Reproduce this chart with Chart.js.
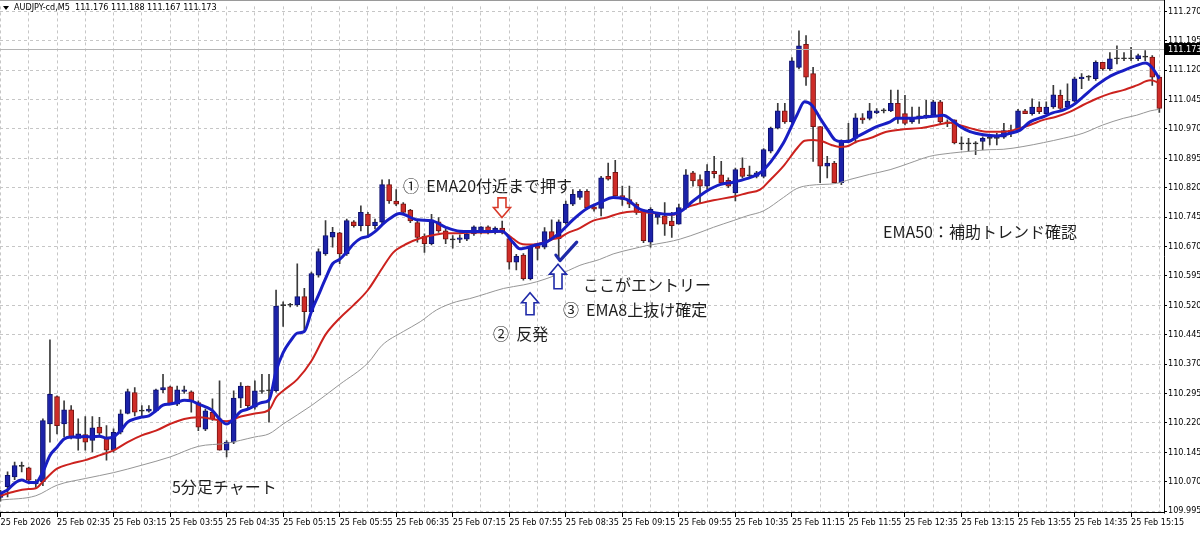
<!DOCTYPE html>
<html><head><meta charset="utf-8">
<script src="https://cdn.jsdelivr.net/npm/chart.js@4.4.1/dist/chart.umd.min.js"></script>
<style>html,body{margin:0;padding:0;background:#fff;overflow:hidden}canvas{display:block}</style>
</head><body>
<canvas id="c" width="1200" height="535"></canvas>
<script>
// ---- data ----
const symbolTitle = 'AUDJPY-cd,M5  111.176 111.188 111.167 111.173';
const lastPrice = 111.173;

const opens = [
110.030,110.057,110.082,110.109,110.105,110.064,110.070,110.217,110.287,110.217,
110.253,110.180,110.190,110.175,110.209,110.184,110.150,110.196,110.244,110.297,
110.251,110.250,110.251,110.304,110.312,110.268,110.300,110.299,110.272,110.204,
110.247,110.230,110.150,110.171,110.283,110.314,110.260,110.300,110.302,110.302,
110.519,110.520,110.521,110.542,110.504,110.597,110.651,110.694,110.705,110.651,
110.733,110.723,110.753,110.723,110.732,110.828,110.786,110.779,110.763,110.731,
110.696,110.677,110.733,110.710,110.688,110.688,110.689,110.702,110.706,110.720,
110.706,110.717,110.690,110.630,110.648,110.588,110.672,110.668,110.708,110.690,
110.731,110.778,110.795,110.811,110.771,110.767,110.849,110.859,110.800,110.790,
110.778,110.761,110.681,110.744,110.748,110.735,110.727,110.769,110.858,110.841,
110.824,110.862,110.853,110.839,110.807,110.870,110.851,110.849,110.849,110.913,
110.972,111.016,110.988,111.127,111.186,111.111,110.976,110.875,110.883,110.833,
110.938,110.946,110.998,110.997,111.011,111.016,111.016,111.035,111.009,110.988,
111.001,111.001,111.005,111.039,110.988,110.993,110.932,110.932,110.932,110.938,
110.946,110.946,110.949,110.967,110.967,111.016,111.009,111.026,111.009,111.026,
111.056,111.026,111.041,111.098,111.102,111.098,111.140,111.123,111.149,111.149,
111.149,111.149,111.153,111.153,111.102];
const highs = [
110.048,110.095,110.120,110.120,110.107,110.075,110.230,110.432,110.289,110.276,
110.264,110.230,110.236,110.236,110.234,110.213,110.205,110.253,110.306,110.310,
110.264,110.264,110.306,110.344,110.314,110.314,110.314,110.302,110.276,110.255,
110.281,110.327,110.175,110.302,110.323,110.314,110.327,110.344,110.344,110.559,
110.529,110.525,110.626,110.563,110.605,110.664,110.736,110.719,110.706,110.740,
110.736,110.774,110.757,110.740,110.840,110.841,110.815,110.782,110.765,110.735,
110.702,110.752,110.744,110.714,110.698,110.700,110.706,110.723,110.721,110.723,
110.720,110.735,110.692,110.650,110.652,110.672,110.678,110.718,110.738,110.738,
110.786,110.815,110.815,110.815,110.778,110.849,110.883,110.890,110.824,110.824,
110.782,110.765,110.769,110.752,110.782,110.757,110.778,110.866,110.862,110.853,
110.879,110.900,110.887,110.845,110.870,110.896,110.875,110.862,110.920,110.975,
111.035,111.035,111.152,111.220,111.208,111.127,110.976,110.900,110.887,110.942,
110.984,111.009,111.009,111.035,111.022,111.022,111.069,111.069,111.056,111.026,
111.026,111.043,111.043,111.043,110.993,110.993,110.950,110.946,110.938,110.950,
110.950,110.959,110.984,110.980,111.020,111.020,111.047,111.039,111.039,111.081,
111.069,111.085,111.102,111.111,111.106,111.144,111.140,111.165,111.182,111.165,
111.178,111.161,111.170,111.157,111.106];
const lows = [
110.020,110.031,110.075,110.095,110.064,110.055,110.060,110.171,110.192,110.184,
110.179,110.150,110.150,110.146,110.184,110.125,110.145,110.192,110.243,110.238,
110.238,110.247,110.250,110.297,110.268,110.264,110.295,110.247,110.200,110.200,
110.226,110.150,110.133,110.167,110.259,110.259,110.255,110.295,110.222,110.298,
110.466,110.516,110.517,110.453,110.500,110.592,110.647,110.668,110.626,110.647,
110.719,110.710,110.694,110.715,110.727,110.780,110.774,110.752,110.731,110.681,
110.655,110.674,110.706,110.677,110.666,110.680,110.685,110.698,110.702,110.702,
110.702,110.702,110.612,110.610,110.584,110.585,110.636,110.664,110.688,110.640,
110.727,110.774,110.790,110.765,110.760,110.748,110.839,110.799,110.775,110.769,
110.752,110.680,110.668,110.727,110.698,110.693,110.727,110.765,110.824,110.782,
110.816,110.845,110.828,110.820,110.786,110.845,110.845,110.845,110.845,110.909,
110.970,110.984,110.984,111.123,111.081,110.887,110.833,110.845,110.833,110.828,
110.934,110.934,110.984,110.993,111.009,111.011,111.014,110.984,110.980,110.984,
110.984,110.997,111.001,110.984,110.976,110.932,110.917,110.913,110.904,110.917,
110.929,110.929,110.946,110.950,110.963,111.009,111.005,111.009,111.008,111.022,
111.020,111.022,111.039,111.073,111.094,111.094,111.119,111.119,111.136,111.144,
111.144,111.144,111.144,111.081,111.012];
const closes = [
110.042,110.086,110.111,110.110,110.074,110.070,110.226,110.293,110.213,110.253,
110.184,110.192,110.171,110.207,110.194,110.150,110.196,110.243,110.300,110.247,
110.250,110.255,110.304,110.310,110.268,110.304,110.304,110.276,110.209,110.251,
110.230,110.150,110.171,110.283,110.314,110.264,110.302,110.300,110.303,110.518,
110.520,110.521,110.542,110.504,110.601,110.657,110.698,110.706,110.651,110.736,
110.723,110.757,110.723,110.732,110.828,110.786,110.778,110.757,110.735,110.693,
110.677,110.738,110.710,110.689,110.687,110.692,110.702,110.720,110.720,110.706,
110.717,110.706,110.630,110.645,110.588,110.668,110.665,110.708,110.690,110.733,
110.778,110.803,110.811,110.769,110.765,110.845,110.842,110.799,110.790,110.778,
110.757,110.685,110.765,110.752,110.727,110.723,110.769,110.853,110.837,110.824,
110.862,110.856,110.832,110.824,110.866,110.849,110.850,110.858,110.917,110.972,
111.016,110.988,111.144,111.182,111.102,110.976,110.875,110.883,110.833,110.938,
110.942,110.998,110.993,111.016,111.016,111.016,111.035,110.997,110.984,110.997,
111.001,111.005,111.039,110.988,110.984,110.934,110.932,110.932,110.932,110.946,
110.946,110.946,110.966,110.959,111.016,111.009,111.026,111.014,111.026,111.057,
111.022,111.041,111.098,111.102,111.102,111.140,111.123,111.149,111.149,111.149,
111.149,111.157,111.153,111.102,111.022];

// EMA lines at these bar positions
const ema8Bars = [0,1,2,3,4,5,6,7,8,9,10,11,12,13,14,15,16,17,18,19,20,21,22,23,24,25,26,27,28,29,30,31,32,33,34,35,36,37,38,39,40,41,42,43,44,45,46,47,48,49,50,51,52,53,54,55,56.5,59,61,63,65,68,71,72.5,73.5,75.4,77.3,79.2,81,83,84.8,86.7,88.6,90.5,92.4,94.3,96.2,98,99.9,101.8,103.7,105.6,107.5,109,110.8,112.7,113.8,114.8,116,117.1,118.1,119,120,121.2,122.6,124,125.9,126.8,128.7,130.6,132.5,133.4,134.6,135.8,137.2,139.1,141,142.9,144.3,145.7,147.6,148.9,150.4,151.8,153.2,155.1,156.8,158.9,160.8,162,162.9,164];
const ema8Vals = [110.040,110.049,110.066,110.074,110.068,110.068,110.095,110.137,110.158,110.179,110.184,110.184,110.185,110.184,110.186,110.181,110.184,110.200,110.222,110.230,110.235,110.238,110.251,110.265,110.268,110.272,110.278,110.276,110.268,110.261,110.251,110.230,110.217,110.230,110.249,110.255,110.264,110.272,110.278,110.352,110.399,110.428,110.449,110.453,110.504,110.546,110.588,110.626,110.637,110.656,110.677,110.691,110.696,110.708,110.725,110.740,110.754,110.738,110.736,110.719,110.709,110.708,110.709,110.681,110.664,110.672,110.682,110.706,110.738,110.767,110.782,110.795,110.790,110.765,110.757,110.752,110.759,110.786,110.811,110.828,110.834,110.843,110.858,110.886,110.934,111.005,111.039,111.031,110.997,110.967,110.942,110.938,110.938,110.950,110.963,110.976,110.988,110.997,110.997,111.000,111.003,111.005,110.993,110.976,110.963,110.955,110.952,110.959,110.967,110.988,111.001,111.011,111.018,111.031,111.052,111.081,111.102,111.119,111.132,111.138,111.128,111.098];

const ema20Bars = [0,2,4,5,6,8,10,12,14,16,18,20,22,24,26,28,30,32,34,36,38,39,40,42,44,46,48,50,52,54,55.6,57.5,59.4,61.3,63.1,65,66.9,68.8,70.7,71.6,72.6,73.5,74.4,75.4,76.3,77.3,78.2,79.2,80.1,82,83.9,85.8,87.7,89.5,91.4,93.3,95.2,97.1,99,100.9,103.7,105.6,107.5,109,110.8,112.7,113.8,115,116.4,117.6,118.8,119.7,121.2,123,125.4,127.8,130.1,132.5,134.4,135.3,137.2,139.5,141.9,143.8,145.7,147.6,149.4,151.4,153.2,155.1,157,158.9,160.8,162.7,163.6,164];
const ema20Vals = [110.034,110.045,110.051,110.053,110.070,110.103,110.116,110.125,110.137,110.150,110.171,110.188,110.200,110.217,110.230,110.234,110.230,110.224,110.236,110.244,110.253,110.285,110.302,110.331,110.378,110.445,110.487,110.521,110.559,110.614,110.655,110.677,110.691,110.699,110.704,110.704,110.706,110.706,110.708,110.702,110.689,110.678,110.675,110.675,110.678,110.682,110.689,110.693,110.703,110.717,110.736,110.744,110.755,110.759,110.757,110.754,110.751,110.770,110.780,110.788,110.797,110.806,110.815,110.841,110.875,110.920,110.940,110.942,110.938,110.929,110.924,110.925,110.938,110.946,110.963,110.969,110.972,110.980,110.986,110.982,110.972,110.963,110.963,110.969,110.980,110.993,111.001,111.014,111.031,111.047,111.060,111.069,111.081,111.094,111.090,111.085];

const ema50Bars = [0,5,8,12,16,20,24,28,32,36,38,40,44,48,52,54,57,59.4,61.7,64.5,66.4,68.8,71.2,74,75.9,78.2,80.4,82,84.8,86.7,89.5,91.4,94.3,96.2,99,100.9,103.7,105.6,108,110.8,112.7,114.5,118.3,120.2,123,125.9,128.7,131.5,134.4,137.2,140,141.9,144.7,147.6,150.4,153.2,156,158.9,160.8,162.7,164];
const ema50Vals = [110.023,110.034,110.061,110.078,110.093,110.112,110.133,110.160,110.168,110.184,110.192,110.217,110.264,110.318,110.373,110.418,110.453,110.478,110.508,110.529,110.537,110.550,110.563,110.572,110.580,110.594,110.609,110.622,110.637,110.651,110.664,110.672,110.681,110.689,110.706,110.719,110.736,110.748,110.761,110.795,110.818,110.826,110.831,110.841,110.854,110.866,110.883,110.900,110.908,110.913,110.917,110.918,110.925,110.935,110.946,110.959,110.980,110.997,111.005,111.016,111.020];

const priceTicks = [111.270,111.195,111.120,111.045,110.970,110.895,110.820,110.745,110.670,110.595,110.520,110.445,110.370,110.295,110.220,110.145,110.070,109.995];
const timeLabels = ['25 Feb 2026','25 Feb 02:35','25 Feb 03:15','25 Feb 03:55','25 Feb 04:35','25 Feb 05:15','25 Feb 05:55','25 Feb 06:35','25 Feb 07:15','25 Feb 07:55','25 Feb 08:35','25 Feb 09:15','25 Feb 09:55','25 Feb 10:35','25 Feb 11:15','25 Feb 11:55','25 Feb 12:35','25 Feb 13:15','25 Feb 13:55','25 Feb 14:35','25 Feb 15:15'];
const barsPerLabel = 8;
const barsPerGrid = 4;

// annotation texts (anchored in bar / price units)
const notes = [
  {text:'①  EMA20付近まで押す', bar:56.96, price:110.825},
  {text:'ここがエントリー', bar:82.44, price:110.572},
  {text:'③  EMA8上抜け確定', bar:79.6, price:110.509},
  {text:'②  反発', bar:69.7, price:110.448},
  {text:'5分足チャート', bar:24.27, price:110.056},
  {text:'EMA50：補助トレンド確認', bar:124.9, price:110.706}
];
const arrows = [
  {bar:70.97, from:110.794, to:110.744, dir:'down', color:'#d83a2a'},
  {bar:74.94, from:110.552, to:110.496, dir:'up', color:'#1f2aa8'},
  {bar:78.9, from:110.625, to:110.562, dir:'up', color:'#1f2aa8'}
];
const checkMark = [[78.6,110.648],[79.18,110.634],[81.55,110.681]];

// ---- styles ----
const AXFONT = "'Liberation Sans Narrow','DejaVu Sans Condensed','Liberation Sans',sans-serif";
const JPFONT = "'Noto Sans CJK JP','Noto Sans',sans-serif";
const BULL = 'rgb(28,34,168)', BULL_EDGE = 'rgb(12,16,110)';
const BEAR = 'rgb(206,44,40)', BEAR_EDGE = 'rgb(120,20,18)';
const DOJI = '#2b2b2b', WICK = '#3a3a3a';

const idx = opens.map((_, i) => i);
const isDoji = i => Math.abs(closes[i] - opens[i]) < 0.0015;
const bodyFill = idx.map(i => isDoji(i) ? DOJI : (closes[i] > opens[i] ? BULL : BEAR));
const bodyEdge = idx.map(i => isDoji(i) ? DOJI : (closes[i] > opens[i] ? BULL_EDGE : BEAR_EDGE));
const pairs = (xs, ys) => xs.map((b, k) => ({x: b, y: ys[k]}));

const overlay = {
  id: 'overlay',
  afterDraw(chart) {
    const {ctx, chartArea: ca, scales: {x, y}} = chart;
    ctx.save();
    // last price line
    const py = Math.round(y.getPixelForValue(lastPrice)) + 0.5;
    ctx.strokeStyle = '#b4b4b4'; ctx.lineWidth = 1;
    ctx.beginPath(); ctx.moveTo(ca.left, py); ctx.lineTo(ca.right, py); ctx.stroke();
    // frame
    ctx.strokeStyle = '#000';
    ctx.beginPath();
    ctx.moveTo(Math.round(ca.right) + 0.5, 0); ctx.lineTo(Math.round(ca.right) + 0.5, Math.round(ca.bottom) + 0.5);
    ctx.moveTo(0, Math.round(ca.bottom) - 0.5); ctx.lineTo(Math.round(ca.right) + 1, Math.round(ca.bottom) - 0.5);
    ctx.stroke();
    ctx.strokeStyle = '#9a9a9a';
    ctx.beginPath(); ctx.moveTo(0, 0.5); ctx.lineTo(ca.right, 0.5); ctx.stroke();
    // price label box
    ctx.fillStyle = '#000';
    ctx.fillRect(Math.round(ca.right) + 1, py - 6.5, 36, 12);
    ctx.fillStyle = '#fff';
    ctx.font = '9px ' + AXFONT;
    ctx.textBaseline = 'middle'; ctx.textAlign = 'left';
    ctx.fillText(lastPrice.toFixed(3), Math.round(ca.right) + 4, py);
    // header
    ctx.fillStyle = '#000';
    ctx.beginPath(); ctx.moveTo(3, 6); ctx.lineTo(9, 6); ctx.lineTo(6, 10); ctx.closePath(); ctx.fill();
    ctx.font = '9px ' + AXFONT;
    ctx.fillText(symbolTitle, 14, 8);
    // arrows
    arrows.forEach(a => {
      const cx = x.getPixelForValue(a.bar);
      const y1 = y.getPixelForValue(a.from), y2 = y.getPixelForValue(a.to);
      const top = Math.min(y1, y2), bot = Math.max(y1, y2);
      const sw = 4, hw = 8.5, hl = 10;
      ctx.beginPath();
      if (a.dir === 'down') {
        ctx.moveTo(cx - sw, top); ctx.lineTo(cx + sw, top); ctx.lineTo(cx + sw, bot - hl);
        ctx.lineTo(cx + hw, bot - hl); ctx.lineTo(cx, bot); ctx.lineTo(cx - hw, bot - hl);
        ctx.lineTo(cx - sw, bot - hl); ctx.closePath();
      } else {
        ctx.moveTo(cx - sw, bot); ctx.lineTo(cx + sw, bot); ctx.lineTo(cx + sw, top + hl);
        ctx.lineTo(cx + hw, top + hl); ctx.lineTo(cx, top); ctx.lineTo(cx - hw, top + hl);
        ctx.lineTo(cx - sw, top + hl); ctx.closePath();
      }
      ctx.fillStyle = '#fff'; ctx.fill();
      ctx.strokeStyle = a.color; ctx.lineWidth = 1.6; ctx.lineJoin = 'miter'; ctx.stroke();
    });
    // check mark
    ctx.strokeStyle = '#1f2aa8'; ctx.lineWidth = 3.2; ctx.lineCap = 'round'; ctx.lineJoin = 'round';
    ctx.beginPath();
    checkMark.forEach((p, k) => {
      const px = x.getPixelForValue(p[0]), pyy = y.getPixelForValue(p[1]);
      if (k === 0) ctx.moveTo(px, pyy); else ctx.lineTo(px, pyy);
    });
    ctx.stroke();
    // notes
    ctx.fillStyle = '#1e1e1e';
    ctx.font = '16px ' + JPFONT;
    ctx.textAlign = 'left'; ctx.textBaseline = 'middle';
    notes.forEach(n => ctx.fillText(n.text, x.getPixelForValue(n.bar), y.getPixelForValue(n.price)));
    ctx.restore();
  }
};

const gridTicks = [];
for (let b = 0; b <= opens.length - 1; b += barsPerGrid) gridTicks.push(b);

new Chart(document.getElementById('c').getContext('2d'), {
  type: 'bar',
  data: {
    datasets: [
      {type: 'line', label: 'EMA8', data: pairs(ema8Bars, ema8Vals), borderColor: 'rgb(24,30,196)', borderWidth: 3, pointRadius: 0, cubicInterpolationMode: 'monotone', order: 0},
      {type: 'line', label: 'EMA20', data: pairs(ema20Bars, ema20Vals), borderColor: 'rgb(204,34,30)', borderWidth: 2, pointRadius: 0, cubicInterpolationMode: 'monotone', order: 1},
      {type: 'line', label: 'EMA50', data: pairs(ema50Bars, ema50Vals), borderColor: 'rgb(150,150,150)', borderWidth: 1, pointRadius: 0, cubicInterpolationMode: 'monotone', order: 2},
      {type: 'bar', label: 'body', data: idx.map(i => ({x: i, y: [opens[i], closes[i]]})), backgroundColor: bodyFill, borderColor: bodyEdge, borderWidth: 1, borderSkipped: false, barThickness: 5, minBarLength: 1, grouped: false, order: 3},
      {type: 'bar', label: 'wick', data: idx.map(i => ({x: i, y: [lows[i], highs[i]]})), backgroundColor: WICK, barThickness: 1, grouped: false, order: 4}
    ]
  },
  options: {
    responsive: false, animation: false, devicePixelRatio: 1,
    layout: {padding: {top: 2, left: 0, right: 0, bottom: 0}},
    plugins: {legend: {display: false}, tooltip: {enabled: false}},
    scales: {
      x: {
        type: 'linear', min: -0.07, max: 164.66, offset: false,
        afterBuildTicks: s => { s.ticks = gridTicks.map(v => ({value: v})); },
        afterFit: s => { s.height = 22; s.paddingLeft = 0; s.paddingRight = 0; },
        grid: {offset: false, color: '#c6c6c6', lineWidth: 1, tickLength: 4,
               tickColor: c => (c.tick && c.tick.value % barsPerLabel === 0) ? '#000' : 'rgba(0,0,0,0)'},
        border: {display: false, dash: [3, 3]},
        ticks: {autoSkip: false, maxRotation: 0, minRotation: 0, align: 'start', padding: 0,
                color: '#000', font: {family: AXFONT, size: 9},
                callback: v => (v % barsPerLabel === 0) ? timeLabels[v / barsPerLabel] : ''}
      },
      y: {
        type: 'linear', position: 'right', min: 109.990, max: 111.2826,
        afterBuildTicks: s => { s.ticks = priceTicks.map(v => ({value: v})); },
        afterFit: s => { s.width = 36; },
        grid: {color: '#c6c6c6', lineWidth: 1, tickLength: 3, tickColor: '#000'},
        border: {display: false, dash: [3, 3]},
        ticks: {padding: 1, color: '#000', font: {family: AXFONT, size: 9},
                callback: v => Number(v).toFixed(3)}
      }
    }
  },
  plugins: [overlay]
});
</script>
</body></html>
